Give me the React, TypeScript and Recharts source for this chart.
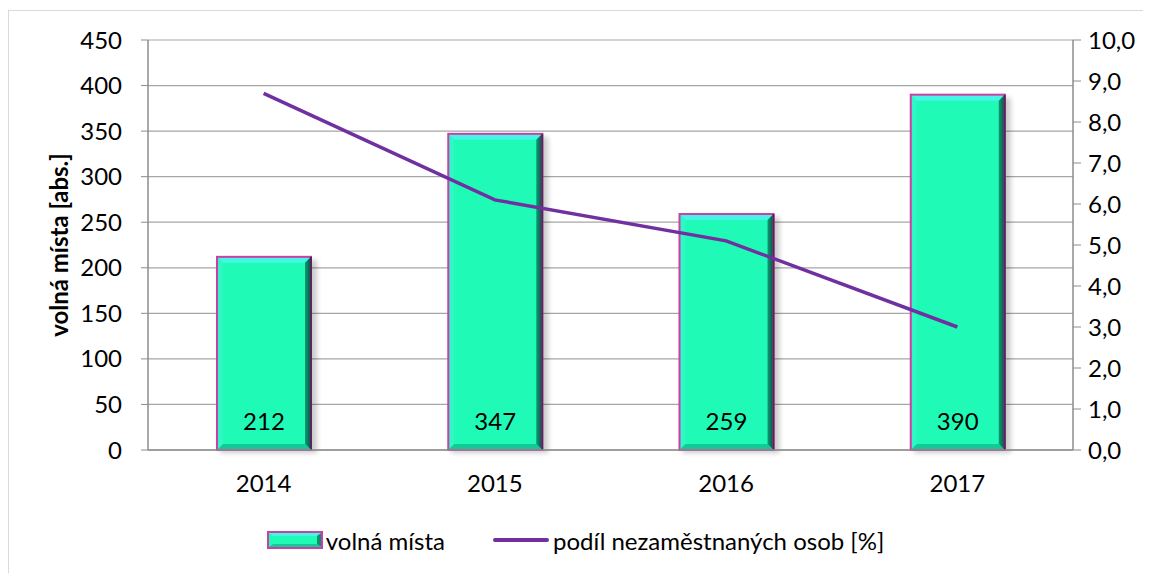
import {
  Bar,
  CartesianGrid,
  ComposedChart,
  LabelList,
  Legend,
  Line,
  XAxis,
  YAxis,
} from 'recharts';

const years = ['2014', '2015', '2016', '2017'];
const volnaMista = [212, 347, 259, 390];
const podilNezamestnanych = [8.7, 6.1, 5.1, 3.0];
const leftTicks = [0, 50, 100, 150, 200, 250, 300, 350, 400, 450];
const rightTicks = [0, 1, 2, 3, 4, 5, 6, 7, 8, 9, 10];

const data = years.map((year, i) => ({
  year,
  mista: volnaMista[i],
  podil: podilNezamestnanych[i],
}));

const FONT = 'Lato, "Noto Sans", sans-serif';
const FS = 24;
const GRID = '#a6a6a6';
const AXIS = '#8c8c8c';
const PURPLE = '#7030a0';

function BevelBar(props: any) {
  const { x, y, width, height } = props;
  if (!height || height <= 0) return null;
  const b = 6;
  return (
    <g>
      <rect x={x + 3} y={y + 3} width={width + 3} height={height} fill="#000" opacity={0.2} filter="url(#barShadow)" />
      <rect x={x} y={y} width={width} height={height} fill="#1ffbb6" />
      {/* top bevel */}
      <polygon points={`${x},${y} ${x + width},${y} ${x + width - b},${y + b} ${x + b},${y + b}`} fill="#45f6e6" />
      {/* left bevel */}
      <polygon points={`${x},${y} ${x + b},${y + b} ${x + b},${y + height - b} ${x},${y + height}`} fill="#2ff7c6" />
      {/* right bevel */}
      <polygon points={`${x + width},${y} ${x + width},${y + height} ${x + width - b},${y + height - b} ${x + width - b},${y + b}`} fill="url(#rightBevel)" />
      {/* bottom bevel */}
      <polygon points={`${x},${y + height} ${x + width},${y + height} ${x + width - b},${y + height - b} ${x + b},${y + height - b}`} fill="#14c898" />
      <rect x={x} y={y} width={width} height={height} fill="none" stroke="#cc3fa6" strokeWidth={2} />
      <line x1={x + width} y1={y} x2={x + width} y2={y + height} stroke="#5a2460" strokeWidth={2} />
    </g>
  );
}

function BarValue(props: any) {
  const { x, y, width, height, value } = props;
  return (
    <text x={x + width / 2} y={y + height - 28} dy="0.35em" textAnchor="middle" fontFamily={FONT} fontSize={FS} fill="#000">
      {value}
    </text>
  );
}

function LeftTitle(props: any) {
  const { viewBox } = props;
  const cy = viewBox.y + viewBox.height / 2;
  const cx = 51;
  return (
    <text x={cx} y={cy} transform={`rotate(-90 ${cx} ${cy})`} textAnchor="middle" dy="0.35em" fontFamily={FONT} fontSize={FS} fontWeight="bold" fill="#000">
      volná místa [abs.]
    </text>
  );
}

function ChartLegend() {
  return (
    <div style={{ display: 'flex', justifyContent: 'center', alignItems: 'center', height: 40, fontFamily: FONT, fontSize: FS, color: '#000', paddingRight: 10 }}>
      <svg width={56} height={18} style={{ marginRight: 3 }}>
        <rect x={1} y={1} width={54} height={16} fill="#1ffbb6" stroke="#cc3fa6" strokeWidth={2} />
        <polygon points="2,2 54,2 50,5 6,5" fill="#45f6e6" />
        <polygon points="54,2 54,16 50,13 50,5" fill="#0e9070" />
        <polygon points="2,16 54,16 50,13 6,13" fill="#14c898" />
      </svg>
      <span>volná místa</span>
      <svg width={56} height={18} style={{ marginLeft: 48, marginRight: 4 }}>
        <line x1={2} y1={9} x2={54} y2={9} stroke={PURPLE} strokeWidth={4} strokeLinecap="round" />
      </svg>
      <span>podíl nezaměstnaných osob [%]</span>
    </div>
  );
}

export default function App() {
  return (
    <div style={{ position: 'relative', top: 2, width: 1145, height: 570, border: '1px solid #d9d9d9', boxSizing: 'border-box', background: '#fff' }}>
      <ComposedChart width={1143} height={562} data={data} margin={{ top: 29, right: 0, left: 0, bottom: 13 }}>
        <defs>
          <filter id="barShadow" x="-20%" y="-20%" width="140%" height="140%">
            <feGaussianBlur stdDeviation="2.5" />
          </filter>
          <linearGradient id="rightBevel" x1="0" y1="0" x2="1" y2="0">
            <stop offset="0%" stopColor="#0f9a78" />
            <stop offset="100%" stopColor="#06553f" />
          </linearGradient>
        </defs>
        <CartesianGrid vertical={false} stroke={GRID} strokeWidth={1.2} yAxisId="left" />
        <XAxis
          dataKey="year"
          height={70}
          tickLine={false}
          tickSize={0}
          tickMargin={25}
          axisLine={{ stroke: AXIS, strokeWidth: 1.5 }}
          tick={{ fontFamily: FONT, fontSize: FS, fill: '#000' }}
        />
        <YAxis
          yAxisId="left"
          orientation="left"
          width={139}
          domain={[0, 450]}
          ticks={leftTicks}
          interval={0}
          axisLine={{ stroke: AXIS, strokeWidth: 1.5 }}
          tickLine={{ stroke: AXIS }}
          tickSize={7}
          tickMargin={19}
          tick={{ fontFamily: FONT, fontSize: FS, fill: '#000' }}
          label={<LeftTitle />}
        />
        <YAxis
          yAxisId="right"
          orientation="right"
          width={79}
          domain={[0, 10]}
          ticks={rightTicks}
          interval={0}
          axisLine={{ stroke: AXIS, strokeWidth: 1.5 }}
          tickLine={{ stroke: AXIS }}
          tickSize={8}
          tickMargin={7}
          tickFormatter={(v: number) => v.toFixed(1).replace('.', ',')}
          tick={{ fontFamily: FONT, fontSize: FS, fill: '#000' }}
        />
        <Legend verticalAlign="bottom" content={<ChartLegend />} />
        <Bar yAxisId="left" dataKey="mista" name="volná místa" barSize={94} shape={<BevelBar />} isAnimationActive={false}>
          <LabelList dataKey="mista" content={<BarValue />} />
        </Bar>
        <Line
          yAxisId="right"
          type="linear"
          dataKey="podil"
          name="podíl nezaměstnaných osob [%]"
          stroke={PURPLE}
          strokeWidth={3.5}
          dot={false}
          activeDot={false}
          isAnimationActive={false}
        />
      </ComposedChart>
    </div>
  );
}
